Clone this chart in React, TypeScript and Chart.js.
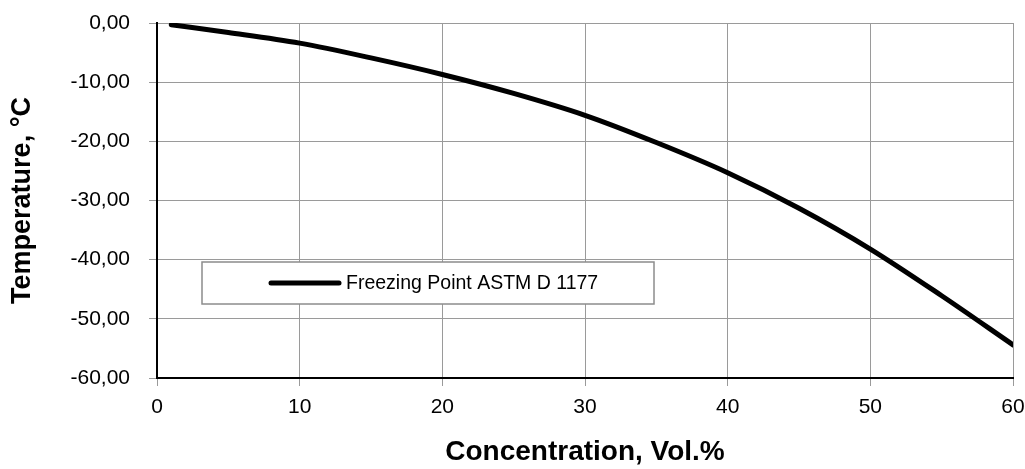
import { useEffect, useRef } from 'react';
import { Chart, registerables } from 'chart.js';

Chart.register(...registerables);

const concentration = [1, 5, 10, 15, 20, 25, 30, 35, 40, 45, 50, 55, 60];
const freezingPoint = [-0.3, -1.6, -3.4, -5.9, -8.7, -11.9, -15.6, -20.2, -25.3, -31.3, -38.2, -46.1, -54.4];
const seriesLabel = 'Freezing Point ASTM D 1177';
const xTitle = 'Concentration, Vol.%';
const yTitle = 'Temperature, °C';
const xTicks = [0, 10, 20, 30, 40, 50, 60];
const yTicks = [0, -10, -20, -30, -40, -50, -60];

const FONT = '"Liberation Sans", Arial, sans-serif';

const legendBoxPlugin = {
  id: 'legendBox',
  afterDatasetsDraw(chart: any) {
    const { ctx, chartArea } = chart;
    const ds = chart.data.datasets[0];
    const x = chartArea.left + 45;
    const y = chartArea.top + 239;
    const w = 452;
    const h = 42;
    ctx.save();
    ctx.fillStyle = '#ffffff';
    ctx.fillRect(x, y, w, h);
    ctx.strokeStyle = '#8c8c8c';
    ctx.lineWidth = 1.5;
    ctx.strokeRect(x, y, w, h);
    ctx.strokeStyle = ds.borderColor;
    ctx.lineWidth = 5;
    ctx.lineCap = 'round';
    ctx.beginPath();
    ctx.moveTo(x + 69, y + 21);
    ctx.lineTo(x + 137, y + 21);
    ctx.stroke();
    ctx.font = `19.5px ${FONT}`;
    ctx.fillStyle = '#000000';
    ctx.textBaseline = 'middle';
    ctx.textAlign = 'left';
    ctx.fillText(ds.label, x + 144, y + 22);
    ctx.restore();
  },
};

export default function App() {
  const canvasRef = useRef<HTMLCanvasElement | null>(null);

  useEffect(() => {
    document.body.style.margin = '0';
    const canvas = canvasRef.current;
    if (!canvas) return;
    const chart = new Chart(canvas, {
      type: 'line',
      data: {
        datasets: [
          {
            label: seriesLabel,
            data: concentration.map((c, i) => ({ x: c, y: freezingPoint[i] })),
            borderColor: '#000000',
            backgroundColor: '#000000',
            borderWidth: 5,
            borderCapStyle: 'round',
            pointRadius: 0,
            cubicInterpolationMode: 'monotone',
            fill: false,
          },
        ],
      },
      options: {
        responsive: false,
        animation: false,
        layout: { padding: { top: 23, right: 12, left: 0, bottom: 0 } },
        plugins: {
          legend: { display: false },
          tooltip: { enabled: false },
        },
        scales: {
          x: {
            type: 'linear',
            min: 0,
            max: 60,
            afterBuildTicks: (s: any) => {
              s.ticks = xTicks.map((v) => ({ value: v }));
            },
            afterFit: (s: any) => {
              s.height = 91;
              s.paddingLeft = 0;
              s.paddingRight = 0;
            },
            grid: { color: '#9a9a9a', lineWidth: 1, tickLength: 8 },
            border: { color: '#000000', width: 2 },
            ticks: {
              color: '#000000',
              font: { family: FONT, size: 21 },
              padding: 9,
              maxRotation: 0,
              autoSkip: false,
              callback: (v: any) => String(v),
            },
            title: {
              display: true,
              text: xTitle,
              color: '#000000',
              font: { family: FONT, size: 28, weight: 'bold', lineHeight: 1.2 },
              padding: { top: 0, bottom: 0 },
            },
          },
          y: {
            type: 'linear',
            min: -60,
            max: 0,
            afterBuildTicks: (s: any) => {
              s.ticks = yTicks.map((v) => ({ value: v }));
            },
            afterFit: (s: any) => {
              s.width = 157;
              s.paddingTop = 0;
              s.paddingBottom = 0;
            },
            grid: { color: '#9a9a9a', lineWidth: 1, tickLength: 8 },
            border: { color: '#000000', width: 2 },
            ticks: {
              color: '#000000',
              font: { family: FONT, size: 21 },
              padding: 19,
              autoSkip: false,
              callback: (v: any) => Number(v).toFixed(2).replace('.', ','),
            },
            title: {
              display: true,
              text: yTitle,
              color: '#000000',
              font: { family: FONT, size: 27, weight: 'bold', lineHeight: 1.2 },
              padding: { top: 6, bottom: 0 },
            },
          },
        },
      },
      plugins: [legendBoxPlugin],
    } as any);
    return () => chart.destroy();
  }, []);

  return (
    <div style={{ width: 1025, height: 469 }}>
      <canvas ref={canvasRef} width={1025} height={469} />
    </div>
  );
}
